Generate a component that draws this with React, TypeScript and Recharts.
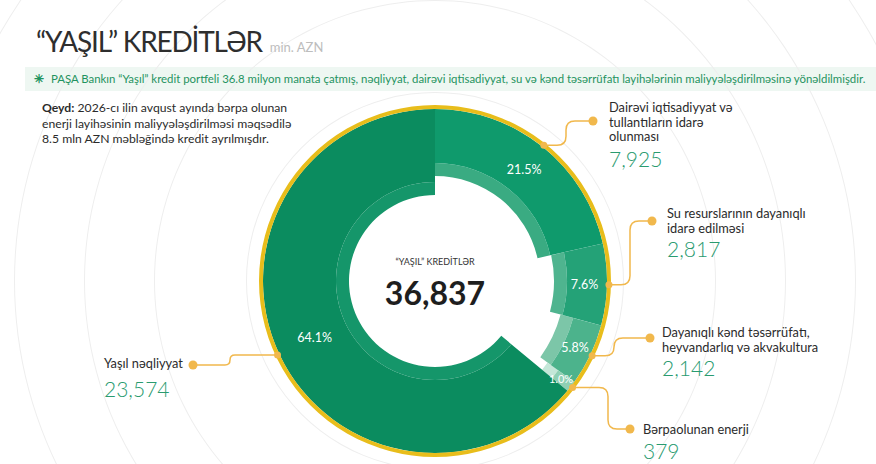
import { PieChart, Pie, Cell } from "recharts";

const CATEGORIES = [
  "Dairəvi iqtisadiyyat və tullantıların idarə olunması",
  "Su resurslarının dayanıqlı idarə edilməsi",
  "Dayanıqlı kənd təsərrüfatı, heyvandarlıq və akvakultura",
  "Bərpaolunan enerji",
  "Yaşıl nəqliyyat",
];
const LABEL_LINES = [
  ["Dairəvi iqtisadiyyat və", "tullantıların idarə", "olunması"],
  ["Su resurslarının dayanıqlı", "idarə edilməsi"],
  ["Dayanıqlı kənd təsərrüfatı,", "heyvandarlıq və akvakultura"],
  ["Bərpaolunan enerji"],
  ["Yaşıl nəqliyyat"],
];
const VALUES = [7925, 2817, 2142, 379, 23574];
const PERCENT_LABELS = ["21.5%", "7.6%", "5.8%", "1.0%", "64.1%"];

const TITLE = "“YAŞIL” KREDİTLƏR";
const UNIT = "min. AZN";
const SUBTITLE =
  "PAŞA Bankın “Yaşıl” kredit portfeli 36.8 milyon manata çatmış, nəqliyyat, dairəvi iqtisadiyyat, su və kənd təsərrüfatı layihələrinin maliyyələşdirilməsinə yönəldilmişdir.";
const NOTE_BOLD = "Qeyd:";
const NOTE_LINES = [
  " 2026-cı ilin avqust ayında bərpa olunan",
  "enerji layihəsinin maliyyələşdirilməsi məqsədilə",
  "8.5 mln AZN məbləğində kredit ayrılmışdır.",
];
const CENTER_TITLE = "“YAŞIL” KREDİTLƏR";

// layout
const CX = 435;
const CY = 281;
const OUTER = 172;
const BAND = 13;
const INNER = [105, 119, 130, 139, 86];
const MAIN_COLORS = ["#0f9a6c", "#24a277", "#4cb38c", "#8fd0b4", "#0b8c5f"];
const BAND_COLORS = ["#3aab82", "#4fb48f", "#7cc6a8", "#c4e7d8", "#15966a"];
const BG_RINGS = [188, 280, 350, 420, 500, 580];
const ORANGE = "#f1b84c";
const GREEN_TEXT = "#2a9b6f";

// callout positions: dot, elbow x, text x, first baseline, value baseline
const CALLOUTS = [
  { dot: [593, 121], vx: 566, tx: 609, ty: 112, vy: 167 },
  { dot: [652, 221], vx: 630, tx: 667, ty: 218, vy: 257 },
  { dot: [650, 338], vx: 614, tx: 662, ty: 337, vy: 376 },
  { dot: [630, 429], vx: 608, tx: 643, ty: 434, vy: 459 },
  { dot: [193, 365], vx: 230, tx: 104, ty: 368, vy: 397 },
];

const data = CATEGORIES.map((name, i) => ({ name, value: VALUES[i] }));
const total = VALUES.reduce((a, b) => a + b, 0);

const RAD = Math.PI / 180;
const polar = (cx: number, cy: number, r: number, angle: number) => ({
  x: cx + r * Math.cos(-angle * RAD),
  y: cy + r * Math.sin(-angle * RAD),
});

const elbowPath = (px: number, py: number, vx: number, dx: number, dy: number) => {
  const sx = Math.sign(vx - px) || 1;
  const ex = Math.sign(dx - vx) || sx;
  const sy = Math.sign(dy - py);
  if (sy === 0) return `M${px},${py}L${dx},${dy}`;
  const r = Math.min(9, Math.abs(dy - py) / 2, Math.abs(vx - px), Math.abs(dx - vx));
  return `M${px},${py} L${vx - sx * r},${py} Q${vx},${py} ${vx},${py + sy * r} L${vx},${dy - sy * r} Q${vx},${dy} ${vx + ex * r},${dy} L${dx},${dy}`;
};

const renderLabel = (props: any) => {
  const { cx, cy, midAngle, index } = props;
  const c = CALLOUTS[index];
  const mid = polar(cx, cy, (INNER[index] + OUTER) / 2 + 4, midAngle);
  const ring = polar(cx, cy, OUTER + 2, midAngle);
  const [dx, dy] = c.dot;
  return (
    <g key={`lbl-${index}`}>
      <text
        x={mid.x}
        y={mid.y}
        fill="#ffffff"
        fontSize={index === 3 ? 11 : 12.5}
        textAnchor="middle"
        dominantBaseline="central"
        fontFamily="Lato, sans-serif"
      >
        {PERCENT_LABELS[index]}
      </text>
      <path d={elbowPath(ring.x, ring.y, c.vx, dx, dy)} stroke={ORANGE} strokeWidth={1.5} fill="none" />
      <circle cx={ring.x} cy={ring.y} r={3.5} fill={ORANGE} />
      <circle cx={dx} cy={dy} r={4.5} fill={ORANGE} />
      {LABEL_LINES[index].map((line, k) => (
        <text key={k} x={c.tx} y={c.ty + k * 14.5} fill="#2b2b2b" fontSize={12.8} fontFamily="Lato, sans-serif">
          {line}
        </text>
      ))}
      <text x={c.tx} y={c.vy} fill={GREEN_TEXT} fontSize={21} fontFamily="Lato, sans-serif" fontWeight={300}>
        {VALUES[index].toLocaleString("en-US")}
      </text>
    </g>
  );
};

export default function App() {
  return (
    <div
      style={{
        position: "absolute",
        left: 0,
        top: 0,
        width: 876,
        height: 464,
        overflow: "hidden",
        background: "#ffffff",
        fontFamily: "Lato, sans-serif",
      }}
    >
      <div style={{ position: "absolute", left: 25, top: 67, width: 851, height: 24, background: "#eef7f2" }} />
      <div style={{ position: "absolute", left: 0, top: 0 }}>
        <PieChart width={876} height={464} margin={{ top: 0, right: 0, bottom: 0, left: 0 }}>
          {BG_RINGS.map((r) => (
            <Pie
              key={`bg-${r}`}
              data={[{ value: 1 }]}
              dataKey="value"
              cx={CX}
              cy={CY}
              innerRadius={r}
              outerRadius={r + 1}
              fill="#eeeeee"
              stroke="none"
              isAnimationActive={false}
            />
          ))}
          {data.map((_, i) => (
            <Pie
              key={`band-${i}`}
              data={data}
              dataKey="value"
              cx={CX}
              cy={CY}
              startAngle={90}
              endAngle={-270}
              innerRadius={INNER[i]}
              outerRadius={INNER[i] + BAND}
              stroke="none"
              isAnimationActive={false}
            >
              {data.map((__, j) => (
                <Cell key={j} fill={j === i ? BAND_COLORS[i] : "none"} />
              ))}
            </Pie>
          ))}
          {data.map((_, i) => (
            <Pie
              key={`main-${i}`}
              data={data}
              dataKey="value"
              cx={CX}
              cy={CY}
              startAngle={90}
              endAngle={-270}
              innerRadius={INNER[i] + BAND}
              outerRadius={OUTER}
              stroke="none"
              isAnimationActive={false}
            >
              {data.map((__, j) => (
                <Cell key={j} fill={j === i ? MAIN_COLORS[i] : "none"} />
              ))}
            </Pie>
          ))}
          <Pie
            data={[{ value: 1 }]}
            dataKey="value"
            cx={CX}
            cy={CY}
            innerRadius={OUTER}
            outerRadius={OUTER + 4}
            fill="#e8bd1b"
            stroke="none"
            isAnimationActive={false}
          />
          <Pie
            data={data}
            dataKey="value"
            cx={CX}
            cy={CY}
            startAngle={90}
            endAngle={-270}
            innerRadius={OUTER}
            outerRadius={OUTER}
            fill="none"
            stroke="none"
            label={renderLabel}
            labelLine={false}
            isAnimationActive={false}
          />
        </PieChart>
      </div>

      <div style={{ position: "absolute", left: 36, top: 24, whiteSpace: "nowrap" }}>
        <span style={{ fontSize: 28, color: "#2e2e2e", letterSpacing: -1.2 }}>{TITLE}</span>
        <span style={{ fontSize: 13, color: "#bdbdbd", marginLeft: 8 }}>{UNIT}</span>
      </div>

      <div
        style={{
          position: "absolute",
          left: 34,
          top: 71,
          fontSize: 11.4,
          color: "#1f935f",
          whiteSpace: "nowrap",
        }}
      >
        <span style={{ marginRight: 7, fontSize: 12, fontWeight: 700 }}>✳</span>
        {SUBTITLE}
      </div>

      <div
        style={{
          position: "absolute",
          left: 42,
          top: 100,
          fontSize: 12.2,
          lineHeight: "15.5px",
          color: "#2b2b2b",
          whiteSpace: "nowrap",
        }}
      >
        <b>{NOTE_BOLD}</b>
        {NOTE_LINES[0]}
        <br />
        {NOTE_LINES[1]}
        <br />
        {NOTE_LINES[2]}
      </div>

      <div
        style={{
          position: "absolute",
          left: CX - 100,
          width: 200,
          top: 256,
          textAlign: "center",
          fontSize: 9,
          color: "#333",
        }}
      >
        {CENTER_TITLE}
      </div>
      <div
        style={{
          position: "absolute",
          left: CX - 100,
          width: 200,
          top: 273,
          textAlign: "center",
          fontSize: 32,
          fontWeight: 700,
          color: "#1e1e1e",
        }}
      >
        {total.toLocaleString("en-US")}
      </div>
    </div>
  );
}
